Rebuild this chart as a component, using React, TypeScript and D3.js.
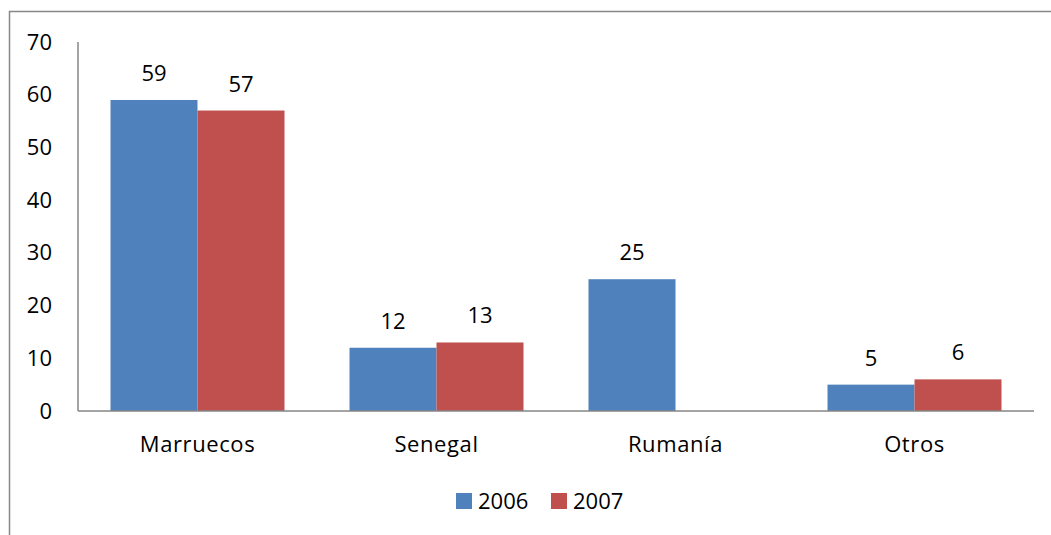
import React from "react";
import * as d3 from "d3";

const categories = ["Marruecos", "Senegal", "Rumanía", "Otros"];
const series = ["2006", "2007"];
const values2006: (number | null)[] = [59, 12, 25, 5];
const values2007: (number | null)[] = [57, 13, null, 6];
const yTicks = [0, 10, 20, 30, 40, 50, 60, 70];
const colors = ["#4F81BD", "#C0504D"];

export default function App() {
  const W = 1051, H = 535;
  const left = 78, right = 1034, top = 42, bottom = 411;
  const font = "'Open Sans', sans-serif";
  const fs = 22;
  const ls = 0.6;
  const y = d3.scaleLinear().domain([0, 70]).range([bottom, top]);
  const x0 = d3.scaleBand().domain(categories).range([left, right]).paddingInner(0.272).paddingOuter(0.136);
  const x1 = d3.scaleBand().domain(series).range([0, x0.bandwidth()]);
  const data = [values2006, values2007];
  return (
    <svg width={W} height={H} style={{ position: "absolute", left: 0, top: 0 }}>
      <rect x={9.5} y={11.5} width={1100} height={600} fill="white" stroke="#888" strokeWidth={1.5} />
      {categories.map((c, i) =>
        series.map((s, j) => {
          const v = data[j][i];
          if (v == null) return null;
          const bx = (x0(c) as number) + (x1(s) as number);
          return (
            <g key={c + s}>
              <rect x={bx} y={y(v)} width={x1.bandwidth()} height={bottom - y(v)} fill={colors[j]} />
              <text x={bx + x1.bandwidth() / 2} y={y(v) - 19} textAnchor="middle" fontFamily={font} fontSize={fs} fill="#000">{v}</text>
            </g>
          );
        })
      )}
      <line x1={left} x2={left} y1={top} y2={bottom} stroke="#868686" strokeWidth={1.5} />
      <line x1={left} x2={right} y1={bottom} y2={bottom} stroke="#868686" strokeWidth={1.5} />
      {yTicks.map((t) => (
        <text key={t} x={52} y={y(t) + 7.5} textAnchor="end" fontFamily={font} fontSize={fs} fill="#000">{t}</text>
      ))}
      {categories.map((c) => (
        <text key={c} x={(x0(c) as number) + x0.bandwidth() / 2} y={452} textAnchor="middle" fontFamily={font} fontSize={fs} letterSpacing={ls} fill="#000">{c}</text>
      ))}
      {series.map((s, j) => (
        <g key={s} transform={`translate(${456 + j * 95},0)`}>
          <rect x={0} y={493} width={16} height={16} fill={colors[j]} />
          <text x={22} y={509} fontFamily={font} fontSize={fs} fill="#000">{s}</text>
        </g>
      ))}
    </svg>
  );
}
